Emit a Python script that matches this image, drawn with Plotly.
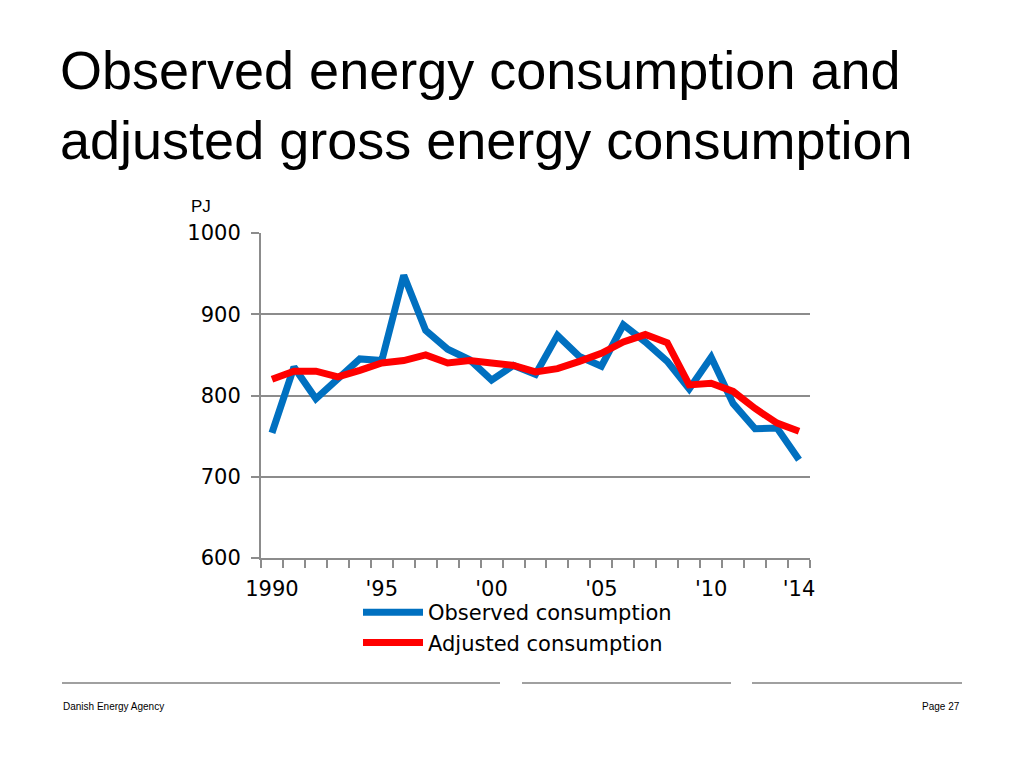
import plotly.graph_objects as go

years = list(range(1990, 2015))
observed = [754, 835, 796, 821, 845, 843, 948, 880, 857, 844, 819, 837,
            826, 874, 848, 836, 887, 866, 842, 808, 847, 790, 759, 760, 721]
adjusted = [820, 830, 830, 823, 831, 840, 843, 850, 840, 843, 840, 837,
            829, 833, 842, 852, 866, 875, 865, 813, 815, 805, 784, 766, 756]
tick_years = [1990, 1995, 2000, 2005, 2010, 2014]
tick_labels = ["1990", "'95", "'00", "'05", "'10", "'14"]
boundaries = [y - 0.5 for y in years] + [years[-1] + 0.5]

OFF = 8  # page body margin
W, H = 1024 - OFF, 768 - OFF
L, R, T, B = 261 - OFF, 810 - OFF, 233 - OFF, 558 - OFF

def px_x(p):
    return (p - OFF - L) / (R - L)

def px_y(p):
    return (B - (p - OFF)) / (B - T)

fig = go.Figure()
fig.add_trace(go.Scatter(x=years, y=observed, mode="lines", name="Observed consumption",
                         line=dict(color="#0070C0", width=7)))
fig.add_trace(go.Scatter(x=years, y=adjusted, mode="lines", name="Adjusted consumption",
                         line=dict(color="#FF0000", width=7)))

gray = "#8C8C8C"
fig.update_layout(
    width=W, height=H, autosize=False,
    margin=dict(l=L, r=W - R, t=T, b=H - B, pad=0),
    paper_bgcolor="white", plot_bgcolor="white",
    font=dict(family="DejaVu Sans", color="black"),
    showlegend=True,
    legend=dict(x=px_x(358), y=px_y(592), xanchor="left", yanchor="top",
                font=dict(family="DejaVu Sans", size=21, color="black"),
                bgcolor="rgba(0,0,0,0)", itemwidth=60, tracegroupgap=0),
    xaxis=dict(range=[1989.5, 2014.5], tickmode="array", tickvals=tick_years,
               ticktext=tick_labels, ticks="", showgrid=False, zeroline=False,
               showline=True, linecolor=gray, linewidth=2,
               ticklabelstandoff=11,
               tickfont=dict(family="DejaVu Sans", size=21, color="black"),
               minor=dict(tickmode="array", tickvals=boundaries, ticks="outside",
                          ticklen=8, tickcolor=gray, tickwidth=1.5, showgrid=False)),
    yaxis=dict(range=[600, 1000], tickmode="linear", tick0=600, dtick=100,
               ticks="outside", ticklen=8, tickcolor=gray, tickwidth=2,
               showgrid=True, gridcolor=gray, gridwidth=2, zeroline=False,
               showline=True, linecolor=gray, linewidth=2,
               ticklabelstandoff=6,
               tickfont=dict(family="DejaVu Sans", size=21, color="black")),
)

annotations = [
    dict(text="Observed energy consumption and<br>adjusted gross energy consumption",
         xref="paper", yref="paper", x=px_x(58), y=px_y(38), xanchor="left", yanchor="top",
         align="left", showarrow=False,
         font=dict(family="Liberation Sans", size=54, color="black")),
    dict(text="PJ", xref="paper", yref="paper", x=px_x(189), y=px_y(207),
         xanchor="left", yanchor="middle", showarrow=False,
         font=dict(family="Liberation Sans", size=17, color="black")),
    dict(text="Danish Energy Agency", xref="paper", yref="paper", x=px_x(61), y=px_y(706),
         xanchor="left", yanchor="middle", showarrow=False,
         font=dict(family="Liberation Sans", size=10, color="black")),
    dict(text="Page 27", xref="paper", yref="paper", x=px_x(962), y=px_y(706),
         xanchor="right", yanchor="middle", showarrow=False,
         font=dict(family="Liberation Sans", size=10, color="black")),
]
fig.update_layout(annotations=annotations)

shapes = []
for a, b in [(62, 500), (522, 731), (752, 962)]:
    shapes.append(dict(type="line", xref="paper", yref="paper", x0=px_x(a), x1=px_x(b),
                       y0=px_y(683), y1=px_y(683), line=dict(color="#A0A0A0", width=2)))
fig.update_layout(shapes=shapes)

fig.write_html("out.html")
